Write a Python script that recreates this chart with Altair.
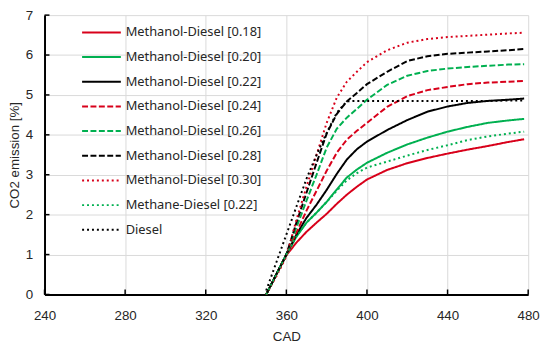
import altair as alt
import pandas as pd

# ---- data ----
cad = [350, 355, 360, 365, 370, 375, 380, 385, 390, 395, 400,
       410, 420, 430, 440, 450, 460, 470, 478]

md_018 = [0, 0.50, 0.98, 1.30, 1.57, 1.80, 2.02, 2.27, 2.50, 2.70, 2.88,
          3.12, 3.29, 3.42, 3.53, 3.63, 3.72, 3.82, 3.89]
md_020 = [0, 0.50, 1.00, 1.45, 1.80, 2.05, 2.32, 2.63, 2.93, 3.13, 3.30,
          3.55, 3.76, 3.93, 4.08, 4.20, 4.30, 4.36, 4.40]
md_022 = [0, 0.50, 1.00, 1.50, 1.92, 2.25, 2.62, 3.02, 3.38, 3.64, 3.83,
          4.12, 4.37, 4.58, 4.71, 4.80, 4.85, 4.88, 4.91]
md_024 = [0, 0.50, 1.00, 1.55, 2.10, 2.60, 3.10, 3.55, 3.88, 4.10, 4.30,
          4.70, 4.97, 5.12, 5.20, 5.27, 5.31, 5.33, 5.35]
md_026 = [0, 0.50, 1.00, 1.68, 2.35, 3.00, 3.68, 4.15, 4.43, 4.65, 4.88,
          5.25, 5.48, 5.60, 5.66, 5.70, 5.73, 5.76, 5.77]
md_028 = [0, 0.50, 1.00, 1.80, 2.55, 3.30, 4.03, 4.52, 4.84, 5.05, 5.27,
          5.58, 5.85, 5.97, 6.03, 6.06, 6.09, 6.12, 6.15]
md_030 = [0, 0.45, 0.95, 1.87, 2.70, 3.50, 4.30, 4.93, 5.33, 5.58, 5.82,
          6.12, 6.31, 6.40, 6.45, 6.48, 6.51, 6.54, 6.56]
me_022 = [0, 0.50, 1.00, 1.45, 1.80, 2.05, 2.32, 2.60, 2.86, 3.04, 3.18,
          3.33, 3.48, 3.62, 3.74, 3.87, 3.96, 4.03, 4.08]
diesel = [0.10, 0.80, 1.50, 2.20, 2.90, 3.50, 4.05, 4.55, 4.84, 4.85, 4.85,
          4.85, 4.85, 4.85, 4.85, 4.85, 4.85, 4.86, 4.86]

series_names = [
    "Methanol-Diesel [0.18]", "Methanol-Diesel [0.20]", "Methanol-Diesel [0.22]",
    "Methanol-Diesel [0.24]", "Methanol-Diesel [0.26]", "Methanol-Diesel [0.28]",
    "Methanol-Diesel [0.30]", "Methane-Diesel [0.22]", "Diesel",
]
series_values = [md_018, md_020, md_022, md_024, md_026, md_028, md_030, me_022, diesel]

x_ticks = [240, 280, 320, 360, 400, 440, 480]
y_ticks = [0, 1, 2, 3, 4, 5, 6, 7]

# ---- styles ----
RED = "#D8001A"
GREEN = "#00B050"
BLACK = "#000000"
colors = [RED, GREEN, BLACK, RED, GREEN, BLACK, RED, GREEN, BLACK]
SOLID = [1, 0]
DASH = [6, 2.5]
DOT = [2, 3]
dashes = [SOLID, SOLID, SOLID, DASH, DASH, DASH, DOT, DOT, DOT]

rows = []
for name, vals in zip(series_names, series_values):
    for c, v in zip(cad, vals):
        rows.append({"CAD": c, "CO2": v, "series": name})
df = pd.DataFrame(rows)

xscale = alt.Scale(domain=[240, 480], nice=False, zero=False)
yscale = alt.Scale(domain=[0, 7], nice=False)

legend = alt.Legend(
    title=None, orient="none", legendX=40.2, legendY=0,
    symbolType="M-1.22,0L1.22,0", symbolSize=1036, symbolStrokeWidth=2,
    symbolFillColor="transparent",
    labelFont="Noto Sans", labelFontSize=13, labelColor="#262626",
    labelOffset=7, rowPadding=0, padding=0, labelLimit=300,
)

lines = alt.Chart(df).mark_line(strokeWidth=2, strokeCap="butt").encode(
    x=alt.X("CAD:Q", scale=xscale,
            axis=alt.Axis(values=x_ticks, title="CAD", format="d")),
    y=alt.Y("CO2:Q", scale=yscale,
            axis=alt.Axis(values=y_ticks, title="CO2 emission [%]", format="d")),
    color=alt.Color("series:N", scale=alt.Scale(domain=series_names, range=colors),
                    sort=series_names, legend=legend),
    strokeDash=alt.StrokeDash("series:N", scale=alt.Scale(domain=series_names, range=dashes),
                              sort=series_names, legend=legend),
    order=alt.Order("CAD:Q"),
)

xt = pd.DataFrame({"CAD": x_ticks, "CO2": [0] * len(x_ticks)})
yt = pd.DataFrame({"CAD": [240] * len(y_ticks), "CO2": y_ticks})

xtick_marks = alt.Chart(xt).mark_tick(
    orient="vertical", size=5, thickness=1.5, color="black", yOffset=-2.5, opacity=1
).encode(x=alt.X("CAD:Q", scale=xscale), y=alt.Y("CO2:Q", scale=yscale))

ytick_marks = alt.Chart(yt).mark_tick(
    orient="horizontal", size=5, thickness=1.5, color="black", xOffset=2.5, opacity=1
).encode(x=alt.X("CAD:Q", scale=xscale), y=alt.Y("CO2:Q", scale=yscale))

chart = alt.layer(lines, xtick_marks, ytick_marks).properties(
    width=490, height=283,
    autosize=alt.AutoSizeParams(type="none"),
    padding={"left": 37, "top": 5, "right": 14, "bottom": 50},
).configure_view(stroke=None).configure_axis(
    labelFont="Liberation Sans", labelFontSize=13.5, labelColor="#262626",
    titleFont="Liberation Sans", titleFontSize=13.5, titleFontWeight="normal",
    titleColor="#262626",
    domainColor="black", domainWidth=2, ticks=False,
    gridColor="#D9D9D9", gridWidth=1, labelFlush=False,
).configure_axisX(labelPadding=14, titlePadding=8).configure_axisY(
    labelPadding=12, titlePadding=4)

chart.save("out.html", embed_options={"renderer": "svg", "actions": False})
